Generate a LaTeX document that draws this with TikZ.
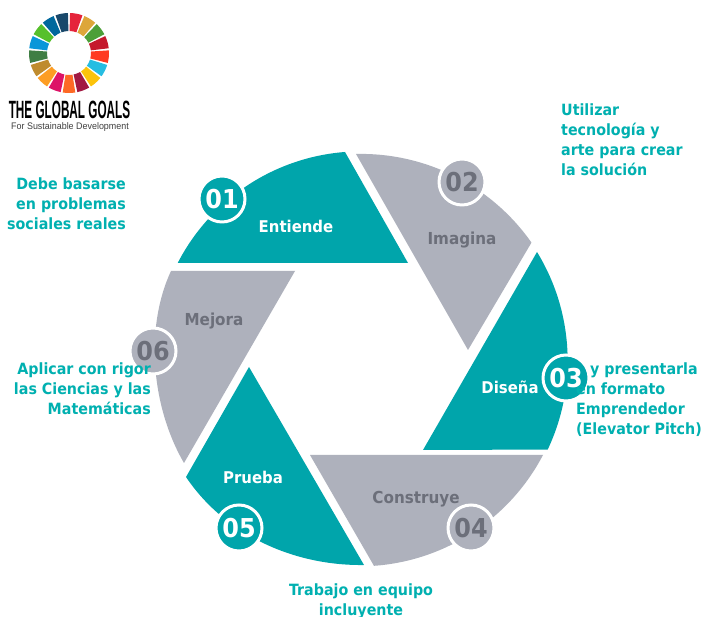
\documentclass[tikz,border=0pt]{standalone}
\usepackage{fontspec}
\setmainfont{DejaVu Sans}[FakeStretch=0.92]
\newfontfamily\ggfont{Liberation Sans}[FakeStretch=0.47]
\newfontfamily\subfont{Liberation Sans}[FakeStretch=0.94]
\definecolor{tealfill}{HTML}{00A5AB}
\definecolor{tealtext}{HTML}{00B0B0}
\definecolor{grayfill}{HTML}{AEB1BC}
\definecolor{graytext}{HTML}{6C6F7A}
\tikzset{
  x=1pt,y=1pt,
  tealblade/.style={fill=tealfill,draw=none},
  grayblade/.style={fill=grayfill,draw=none},
  tealbadge/.style={circle,fill=tealfill,draw=white,line width=3pt,minimum size=46pt,inner sep=0pt,text=white,font=\fontsize{26}{26}\selectfont\bfseries},
  graybadge/.style={circle,fill=grayfill,draw=white,line width=3pt,minimum size=46pt,inner sep=0pt,text=graytext,font=\fontsize{26}{26}\selectfont\bfseries},
  whitelabel/.style={text=white,font=\fontsize{16.2}{20}\selectfont\bfseries,inner sep=0pt},
  graylabel/.style={text=graytext,font=\fontsize{16.5}{20}\selectfont\bfseries,inner sep=0pt},
  note/.style={text=tealtext,font=\fontsize{15.5}{20}\selectfont\bfseries,inner sep=0pt},
}
\begin{document}
\begin{tikzpicture}
\useasboundingbox (0,0) rectangle (703,617);
\fill[white] (0,0) rectangle (703,617);
% blades
\fill[tealblade] (345,465) arc[start angle=94.4,end angle=152.7,radius=206] -- (408,354) -- cycle;
\fill[grayblade] (356,463) arc[start angle=91.4,end angle=35,radius=208] -- (468,267) -- cycle;
\fill[tealblade] (537,365) arc[start angle=31.5,end angle=-25.3,radius=208] -- (423,167) -- cycle;
\fill[grayblade] (543,162) arc[start angle=-27.6,end angle=-85.9,radius=207.5] -- (310,162) -- cycle;
\fill[tealblade] (249,250) -- (364,52) .. controls (294,51) and (225,82) .. (186,140) -- cycle;
\fill[grayblade] (295,346) -- (171,346) .. controls (144,288) and (152,209) .. (184,154) -- cycle;
% blade labels
\node[whitelabel] (lab1) at (296,391) {Entiende};
\node[graylabel] (lab2) at (462,376.5) {Imagina};
\node[whitelabel] (lab3) at (510,230) {Diseña};
\node[graylabel] (lab4) at (416,118) {Construye};
\node[whitelabel] (lab5) at (253,140) {Prueba};
\node[graylabel] (lab6) at (214,295.5) {Mejora};
% badges
\node[tealbadge] (b1) at (222,418) {01};
\node[graybadge] (b2) at (462,435) {02};
\node[tealbadge] (b3) at (566,239) {03};
\node[graybadge] (b4) at (471,89) {04};
\node[tealbadge] (b5) at (239,89) {05};
\node[graybadge] (b6) at (153,266) {06};
% notes
\node[note,anchor=east,align=right] (n1) at (126,413) {Debe basarse\\en problemas\\sociales reales};
\node[note,anchor=west,align=left] (n2) at (561,477) {Utilizar\\tecnología y\\arte para crear\\la solución};
\node[note,anchor=west,align=left] (n3) at (576,217) {\hspace*{14pt}y presentarla\\en formato\\Emprendedor\\(Elevator Pitch)};
\node[note,align=center] (n4) at (361,16) {Trabajo en equipo\\incluyente};
\node[note,anchor=east,align=right] (n5) at (151,228) {Aplicar con rigor\\las Ciencias y las\\Matemáticas};
% logo
\foreach \i/\c in {0/E5243B,1/DDA63A,2/4C9F38,3/C5192D,4/FF3A21,5/26BDE2,6/FCC30B,7/A21942,8/FD6925,9/DD1367,10/FD9D24,11/BF8B2E,12/3F7E44,13/0A97D9,14/56C02B,15/00689D,16/19486A}{
  \definecolor{wedgecol}{HTML}{\c}
  \pgfmathsetmacro{\aa}{90-\i*360/17-1.5}
  \pgfmathsetmacro{\ab}{90-(\i+1)*360/17+1.5}
  \fill[wedgecol] ([shift={(69,564)}]\aa:40) arc[start angle=\aa,end angle=\ab,radius=40] -- ([shift={(69,564)}]\ab:22) arc[start angle=\ab,end angle=\aa,radius=22] -- cycle;
}
\node[inner sep=0pt,text=black,font=\ggfont\fontsize{25}{25}\selectfont\bfseries] (gg) at (69.5,507.5) {THE GLOBAL GOALS};
\node[inner sep=0pt,text=black!75,font=\subfont\fontsize{9.5}{10}\selectfont] (fsd) at (70,490) {For Sustainable Development};
\end{tikzpicture}
\end{document}
